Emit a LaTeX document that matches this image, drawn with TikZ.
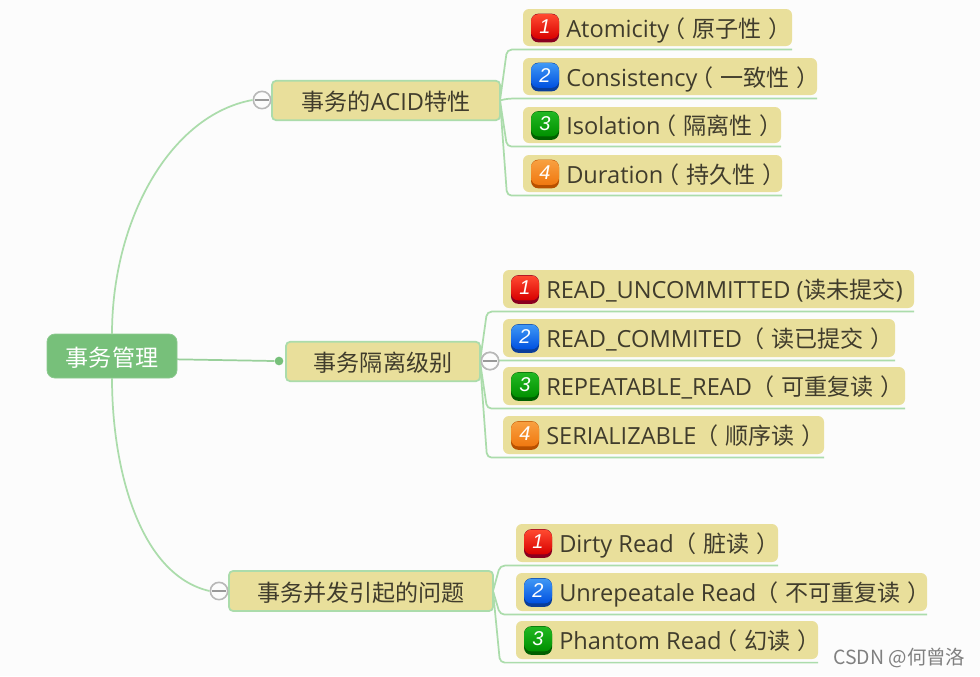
\documentclass[tikz,border=0pt]{standalone}
\usepackage{fontspec}
\setmainfont{Open Sans}
\newfontfamily\cjkfam{Noto Sans CJK SC}
\newfontfamily\numfont{Liberation Sans}
\newcommand{\cj}[1]{{\cjkfam\fontsize{17.3}{20}\selectfont #1}}
\newcommand{\lp}{\hbox to 1em{\kern-.3em（\hss}}
\newcommand{\rp}{\hbox to 1em{\kern.3em）\hss}}
\definecolor{bgc}{HTML}{FCFCFC}
\definecolor{sand}{HTML}{E9DF9B}
\definecolor{rootc}{HTML}{77C07A}
\definecolor{linec}{HTML}{ABDCAB}
\definecolor{inkc}{HTML}{403C2C}
\definecolor{redT}{HTML}{FF4A30}\definecolor{redB}{HTML}{D80000}\definecolor{redR}{HTML}{8A0020}
\definecolor{bluT}{HTML}{3F98F5}\definecolor{bluB}{HTML}{0050E0}\definecolor{bluR}{HTML}{0A3E9A}
\definecolor{greT}{HTML}{22B822}\definecolor{greB}{HTML}{009000}\definecolor{greR}{HTML}{006000}
\definecolor{oraT}{HTML}{F8A040}\definecolor{oraB}{HTML}{F07810}\definecolor{oraR}{HTML}{B85000}
\tikzset{
  x=0.75pt,y=-0.75pt,
  boxed/.style={inner sep=0pt,outer sep=0pt,fill=sand,rounded corners=4.5pt},
  parentbox/.style={boxed,draw=linec,line width=1.3pt,rounded corners=3pt},
  branch/.style={draw=linec,line width=1.3pt,rounded corners=3.5pt},
  curveline/.style={draw=linec,line width=1.3pt},
  leaftext/.style={anchor=base west,inner sep=0pt,text=inkc,font=\fontsize{17.7}{20}\selectfont},
  parenttext/.style={text=inkc,inner sep=0pt,text height=16pt,text depth=.4pt,font=\fontsize{17.7}{20}\selectfont},
  badgebase/.style={inner sep=0pt,outer sep=0pt,minimum width=21pt,minimum height=21.5pt,rounded corners=5.5pt},
  toggle/.style={circle,draw=black!28,line width=1.2pt,fill=bgc,minimum size=13pt,inner sep=0pt,
    path picture={\draw[black!40,line width=.8pt] ([xshift=1pt]path picture bounding box.west) -- ([xshift=-1pt]path picture bounding box.east);}},
}
% name, x1, y1, x2, y2, colour prefix, number, text
\newcommand{\leafitem}[8]{
  \node[boxed,minimum width={(#4-#2)*0.75pt},minimum height={(#5-#3)*0.75pt}] (#1) at ({(#2+#4)/2},{(#3+#5)/2}) {};
  \node[badgebase,fill=#6R] (#1b0) at ({#2+22},{(#3+#5)/2+0.5}) {};
  \node[badgebase,minimum height=18.5pt,top color=#6T,bottom color=#6B,text=white,font=\numfont\itshape\fontsize{15}{15}\selectfont] (#1b) at ({#2+22},{(#3+#5)/2-1}) {#7};
  \node[leaftext] (#1t) at ({#2+43},{(#3+#5)/2+9.5}) {#8};
  \coordinate (#1ul) at ([yshift=-2.7pt]#1.south west);
  \coordinate (#1ur) at ([yshift=-2.7pt]#1.south east);
}
\newcommand{\branchto}[2]{\draw[branch] (#1.east) -- ([xshift=-12pt]#2ul) -- (#2ur);}
\begin{document}
\begin{tikzpicture}
\useasboundingbox[fill=bgc] (0,0) rectangle (980,676);
% main nodes
\node[boxed,fill=rootc,draw=rootc!85!white,line width=.6pt,rounded corners=6pt,minimum width=97.5pt,minimum height=33pt,text=white,text height=16pt,text depth=.4pt] (root) at (112,356) {\cj{事务管理}};
\node[parentbox,parenttext,minimum width=171pt,minimum height=29.5pt] (pa) at (386,100.5) {\cj{事务的}ACID\cj{特性}};
\node[parentbox,parenttext,minimum width=145.5pt,minimum height=29.5pt] (pb) at (383,361.5) {\cj{事务隔离级别}};
\node[parentbox,parenttext,minimum width=198pt,minimum height=30pt] (pc) at (361,591) {\cj{事务并发引起的问题}};
% leaves
\leafitem{a1}{523}{9}{792}{46}{red}{1}{Atomicity\cj{\lp 原子性\rp}}
\leafitem{a2}{523}{58}{817}{95}{blu}{2}{Consistency\cj{\lp 一致性\rp}}
\leafitem{a3}{523}{107}{781}{143}{gre}{3}{Isolation\cj{\lp 隔离性\rp}}
\leafitem{a4}{523}{155}{782}{192}{ora}{4}{Duration\cj{\lp 持久性\rp}}
\leafitem{b1}{503}{270}{914}{308}{red}{1}{READ\_UNCOMMITTED (\cj{读未提交})}
\leafitem{b2}{503}{319}{895}{357}{blu}{2}{READ\_COMMITED \cj{\lp 读已提交\rp}}
\leafitem{b3}{503}{367}{905}{405}{gre}{3}{REPEATABLE\_READ \cj{\lp 可重复读\rp}}
\leafitem{b4}{503}{416}{824}{454}{ora}{4}{SERIALIZABLE \cj{\lp 顺序读\rp}}
\leafitem{c1}{516}{524}{778}{562}{red}{1}{Dirty Read \cj{\lp 脏读\rp}}
\leafitem{c2}{516}{573}{927}{611}{blu}{2}{Unrepeatale Read \cj{\lp 不可重复读\rp}}
\leafitem{c3}{516}{621}{818}{659}{gre}{3}{Phantom Read\cj{\lp 幻读\rp}}
% toggles and dot
\node[toggle] (ta) at (262,100) {};
\node[toggle] (tb) at (490,361) {};
\node[toggle] (tc) at (219,591) {};
\node[circle,fill=rootc,minimum size=6.5pt,inner sep=0pt] (db) at (279,361) {};
% connectors
\draw[curveline] (root.north) .. controls (112,220) and (170,115) .. (ta.west);
\draw[curveline] (root.south) .. controls (112,470) and (140,575) .. (tc.west);
\draw[curveline,draw=rootc!75!white] ([yshift=-2.5pt]root.east) -- (db.west);
\foreach \k in {a1,a2,a3,a4} {\branchto{pa}{\k}}
\foreach \k in {b1,b2,b3,b4} {\branchto{pb}{\k}}
\foreach \k in {c1,c2,c3} {\branchto{pc}{\k}}
\node[toggle] at (tb) {};
\node[text=black!50,anchor=west,inner sep=0pt,font=\cjkfam\fontsize{14.6}{16}\selectfont] (mark) at (833,658) {CSDN @何曾洛};
\end{tikzpicture}
\end{document}
